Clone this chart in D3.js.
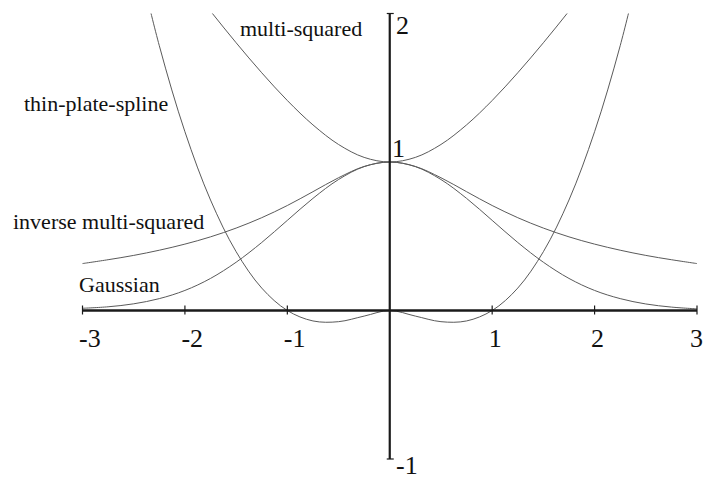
<!DOCTYPE html>
<html>
<head>
<meta charset="utf-8">
<script src="https://cdn.jsdelivr.net/npm/d3@7"></script>
<style>
  html, body { margin: 0; padding: 0; background: #fff; }
  svg { display: block; }
  text { font-family: "Liberation Serif", "Times New Roman", serif; fill: #111; }
</style>
</head>
<body>
<svg id="chart" width="704" height="480"></svg>
<script>
// sample positions along r
const xs = [-3, -2.75, -2.5, -2.25, -2, -1.75, -1.5, -1.25, -1, -0.75, -0.5, -0.25, 0,
            0.25, 0.5, 0.75, 1, 1.25, 1.5, 1.75, 2, 2.25, 2.5, 2.75, 3];

// radial basis function values at each sample (null = far above the plot)
const gaussian = [0.015, 0.025, 0.045, 0.08, 0.135, 0.216, 0.325, 0.458, 0.607, 0.755, 0.882, 0.969, 1,
                  0.969, 0.882, 0.755, 0.607, 0.458, 0.325, 0.216, 0.135, 0.08, 0.044, 0.023, 0.011];
const inverseMultiSquared = [0.316, 0.342, 0.371, 0.406, 0.447, 0.496, 0.555, 0.625, 0.707, 0.8, 0.894, 0.97, 1,
                             0.97, 0.894, 0.8, 0.707, 0.625, 0.555, 0.496, 0.447, 0.406, 0.371, 0.342, 0.316];
const multiSquared = [null, null, null, 2.462, 2.236, 2.016, 1.803, 1.601, 1.414, 1.25, 1.118, 1.031, 1,
                      1.031, 1.118, 1.25, 1.414, 1.601, 1.803, 2.016, 2.236, 2.462, null, null, null];
const thinPlateSpline = [null, null, 2.487, 1.783, 1.204, 0.744, 0.396, 0.151, 0, -0.0703, -0.0753, -0.0376, 0,
                         -0.0376, -0.0753, -0.0703, 0, 0.151, 0.396, 0.744, 1.204, 1.783, 2.487, null, null];

const seriesNames = ["Gaussian", "inverse multi-squared", "multi-squared", "thin-plate-spline"];
const seriesValues = [gaussian, inverseMultiSquared, multiSquared, thinPlateSpline];

const xTicks = [-3, -2, -1, 1, 2, 3];
const yTicks = [-1, 1, 2];
const xDomain = [-3, 3];
const yDomain = [-1, 2];

const svg = d3.select("#chart");

const x = d3.scaleLinear().domain(xDomain).range([82.5, 697]);
const y = d3.scaleLinear().domain(yDomain).range([459, 13.5]);

// clip curves to the plotting window
svg.append("defs").append("clipPath").attr("id", "plot")
  .append("rect")
  .attr("x", x(xDomain[0]) - 1).attr("y", y(yDomain[1]))
  .attr("width", x(xDomain[1]) - x(xDomain[0]) + 2)
  .attr("height", y(yDomain[0]) - y(yDomain[1]));

const line = d3.line()
  .defined(d => d.v != null)
  .x(d => x(d.x))
  .y(d => y(d.v))
  .curve(d3.curveCatmullRom.alpha(0.5));

svg.append("g").attr("clip-path", "url(#plot)")
  .selectAll("path")
  .data(seriesValues)
  .join("path")
  .attr("d", vals => line(xs.map((xv, i) => ({ x: xv, v: vals[i] }))))
  .attr("fill", "none")
  .attr("stroke", "#5a5a5a")
  .attr("stroke-width", 1);

// axes through the origin
const axisColor = "#1a1a1a";
const axes = svg.append("g");
axes.append("line")
  .attr("x1", x(xDomain[0])).attr("x2", x(xDomain[1]))
  .attr("y1", y(0)).attr("y2", y(0))
  .attr("stroke", axisColor).attr("stroke-width", 2.5);
axes.append("line")
  .attr("x1", x(0)).attr("x2", x(0))
  .attr("y1", y(yDomain[0])).attr("y2", y(yDomain[1]))
  .attr("stroke", axisColor).attr("stroke-width", 2.2);

// x ticks cross the axis
axes.selectAll(".xt")
  .data(xTicks)
  .join("line")
  .attr("x1", d => x(d)).attr("x2", d => x(d))
  .attr("y1", y(0) - 5).attr("y2", y(0) + 4)
  .attr("stroke", axisColor).attr("stroke-width", 1.2);

// y ticks only at the axis ends
axes.selectAll(".yt")
  .data(yDomain)
  .join("line")
  .attr("x1", x(0) - 3).attr("x2", x(0) + 4)
  .attr("y1", d => y(d)).attr("y2", d => y(d))
  .attr("stroke", axisColor).attr("stroke-width", 1.2);

// tick labels, left-aligned just before each tick; the last one kept inside the frame
svg.selectAll(".xl")
  .data(xTicks)
  .join("text")
  .attr("x", d => Math.min(x(d) - 3.5, 690))
  .attr("y", y(0) + 36)
  .attr("font-size", 26)
  .text(d => d);

const yLabelPos = { "2": [396, 34], "1": [392, 157], "-1": [396, 474] };
svg.selectAll(".yl")
  .data(yTicks)
  .join("text")
  .attr("x", d => yLabelPos[d][0])
  .attr("y", d => yLabelPos[d][1])
  .attr("font-size", 26)
  .text(d => d);

// curve names
const namePos = {
  "Gaussian": [79, 292],
  "inverse multi-squared": [13, 229],
  "multi-squared": [240, 36],
  "thin-plate-spline": [24, 111]
};
svg.selectAll(".name")
  .data(seriesNames)
  .join("text")
  .attr("x", d => namePos[d][0])
  .attr("y", d => namePos[d][1])
  .attr("font-size", 22)
  .text(d => d);
</script>
</body>
</html>
